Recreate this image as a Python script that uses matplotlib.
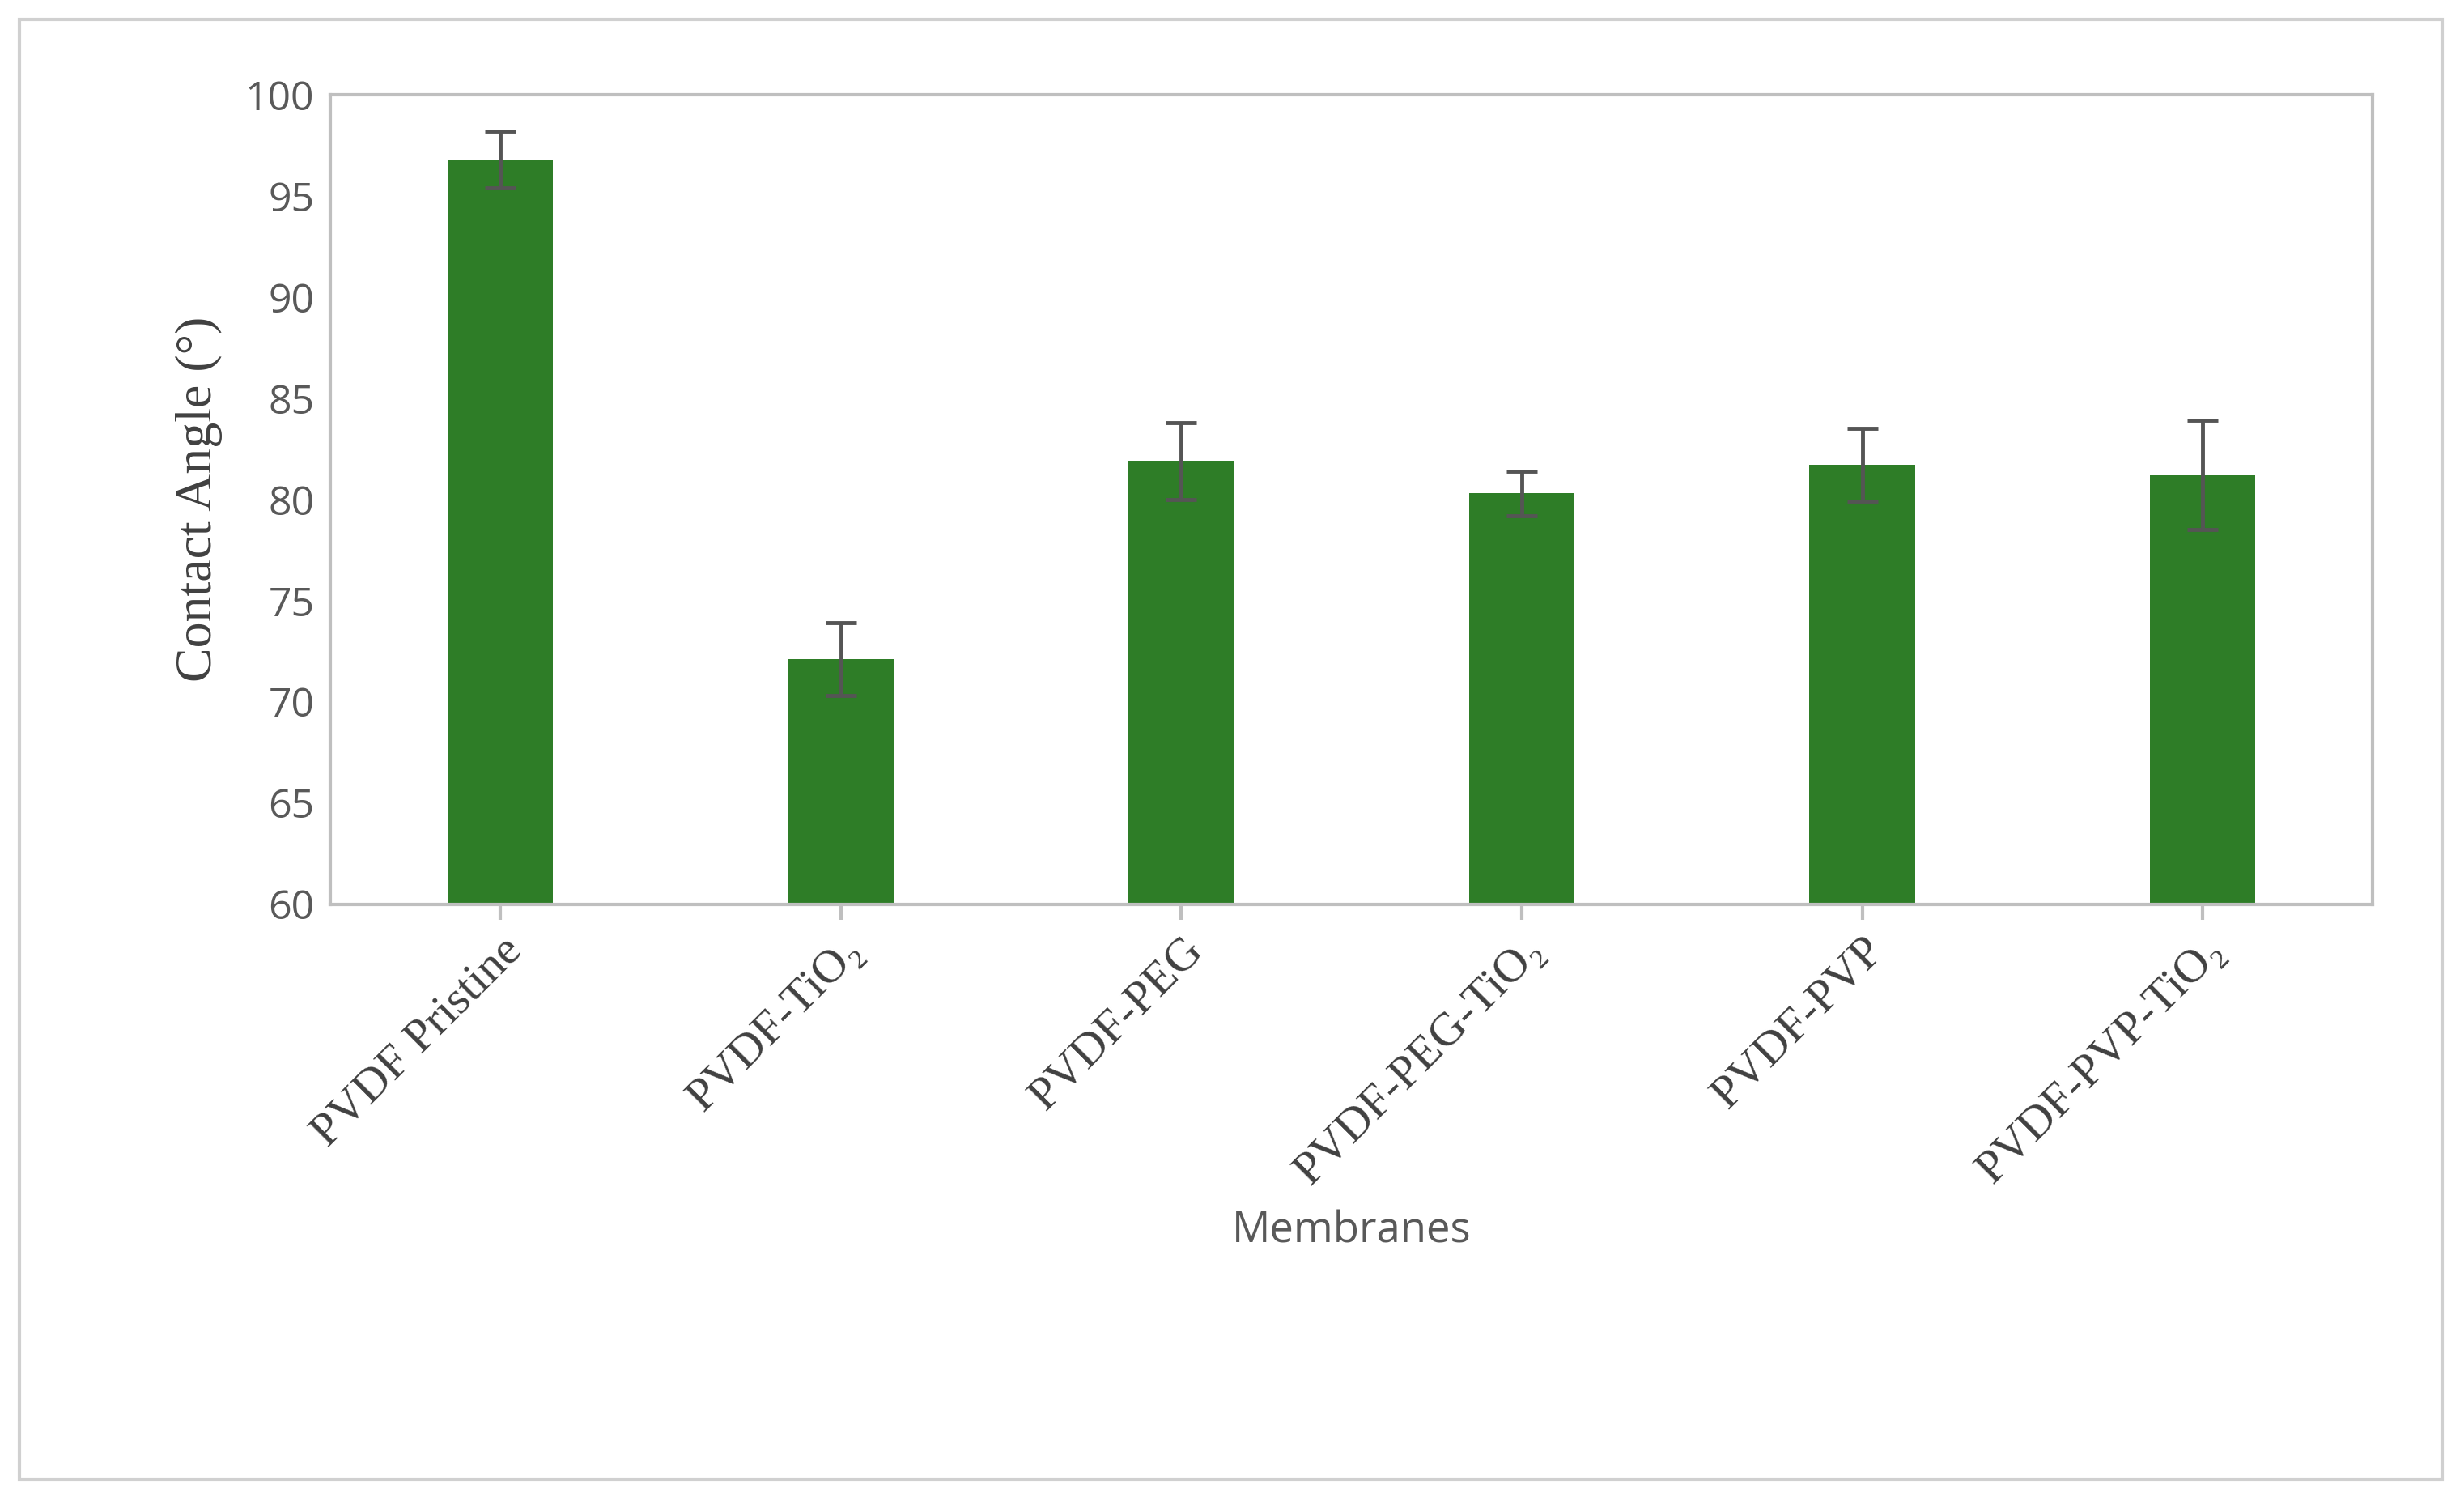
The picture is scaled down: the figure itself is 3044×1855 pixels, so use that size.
import numpy as np
import matplotlib.pyplot as plt
from matplotlib.patches import Rectangle

membranes = ['PVDF Pristine', 'PVDF-TiO₂', 'PVDF-PEG', 'PVDF-PEG-TiO₂', 'PVDF-PVP', 'PVDF-PVP-TiO₂']
angle = [96.8, 72.1, 81.9, 80.3, 81.7, 81.2]
err = [1.4, 1.8, 1.9, 1.1, 1.8, 2.7]

fig = plt.figure(figsize=(30.44, 18.55), dpi=100)
fig.patches.append(Rectangle((0.008, 0.015), 0.983, 0.972, transform=fig.transFigure,
                             fill=False, edgecolor='#d0d0d0', linewidth=3))
ax = fig.add_axes([0.134, 0.398, 0.829, 0.539])

x = np.arange(len(membranes))
ax.bar(x, angle, width=0.31, color='#2e7d27', bottom=0)
ax.errorbar(x, angle, yerr=err, fmt='none', ecolor='#555555', elinewidth=3.5, capsize=14, capthick=3.5)

ax.set_ylim(60, 100)
ax.set_xlim(-0.5, len(membranes) - 0.5)
ax.set_yticks(range(60, 101, 5))
for s in ax.spines.values():
    s.set_color('#bfbfbf')
    s.set_linewidth(3)
ax.tick_params(axis='y', length=0, pad=14, labelsize=36, labelcolor='#595959')
ax.tick_params(axis='x', length=14, width=3, color='#bfbfbf', pad=8)
for t in ax.get_yticklabels():
    t.set_family('Open Sans')
ax.set_xticks(x)
ax.set_xticklabels(membranes, rotation=45, ha='right', rotation_mode='anchor',
                   family='Liberation Serif', fontsize=42, color='#404040')
ax.set_ylabel('Contact Angle (°)', family='Liberation Serif', fontsize=46, color='#404040', labelpad=20)
ax.set_xlabel('Membranes', family='Open Sans', fontsize=38, color='#595959', labelpad=14)

fig.savefig('out.png', dpi=100)
